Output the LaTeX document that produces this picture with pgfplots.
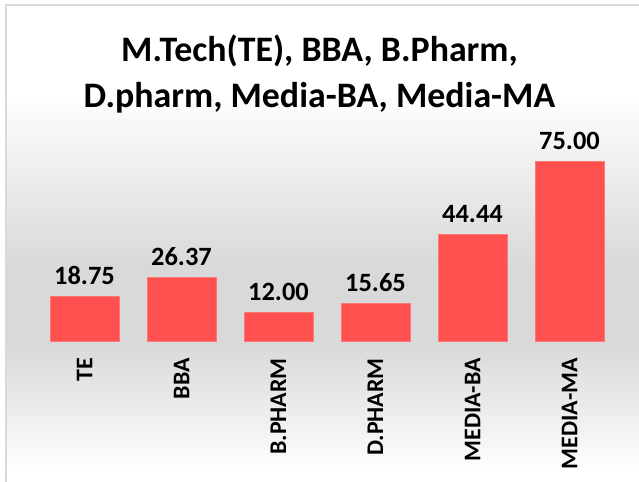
\documentclass[border=0pt]{standalone}
\usepackage{fontspec}
\setmainfont{Carlito}
\usepackage{pgfplots}
\pgfplotsset{compat=1.18}
\definecolor{barred}{RGB}{255,80,80}
\definecolor{baredge}{RGB}{255,120,120}

\begin{document}
\begin{tikzpicture}
\useasboundingbox (0bp,0bp) rectangle (639bp,482bp);
% chart background
\fill[white] (6bp,0bp) rectangle (639bp,477bp);
\shade[top color=white, bottom color=black!15] (6bp,390bp) rectangle (639bp,215bp);
\fill[black!15] (6bp,215.2bp) rectangle (639bp,140bp);
\shade[top color=black!15, bottom color=white] (6bp,140.2bp) rectangle (639bp,8bp);
\fill[white] (6bp,0bp) rectangle (639bp,8.2bp);
\draw[black!15, line width=1.5bp] (6bp,-5bp) -- (6bp,477bp) -- (650bp,477bp);

\node[align=center, font=\fontsize{36}{46}\selectfont\bfseries] at (319.5bp,408bp)
  {M.Tech(TE), BBA, B.Pharm,\\D.pharm, Media-BA, Media-MA};

\begin{axis}[
  at={(36bp,141bp)}, anchor=south west,
  scale only axis, width=582bp, height=211.2bp,
  xmin=-0.5, xmax=5.5, ymin=0, ymax=88,
  axis line style={draw=none},
  ytick=\empty,
  xtick={0,1,2,3,4,5},
  xticklabels={TE,BBA,B.PHARM,D.PHARM,MEDIA-BA,MEDIA-MA},
  major tick length=0pt,
  xticklabel shift=17bp,
  xticklabel style={rotate=90, anchor=east, inner sep=0pt,
    font=\fontsize{24}{24}\selectfont\bfseries},
  /pgf/number format/assume math mode=true,
  clip=false,
]
\addplot[ybar, bar width=0.711, fill=barred, draw=baredge, line width=0.6bp,
  nodes near coords={\pgfmathprintnumber[fixed, fixed zerofill, precision=2]{\pgfplotspointmeta}},
  every node near coord/.append style={font=\fontsize{26.5}{26.5}\selectfont\bfseries,
    text=black, anchor=south, yshift=8bp}]
  coordinates {(0,18.75) (1,26.37) (2,12.00) (3,15.65) (4,44.44) (5,75.00)};
\end{axis}
\end{tikzpicture}
\end{document}
